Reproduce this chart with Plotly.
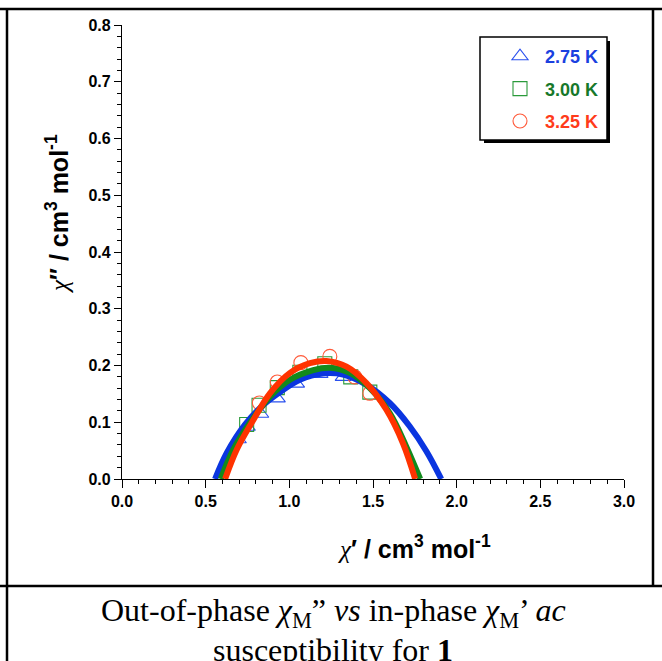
import plotly.graph_objects as go

# ---- data ----
temps = ["2.75 K", "3.00 K", "3.25 K"]

# experimental points (chi', chi'')
x_275 = [0.695, 0.749, 0.829, 0.928, 1.043, 1.183, 1.322]
y_275 = [0.070, 0.092, 0.115, 0.142, 0.168, 0.185, 0.180]
x_300 = [0.745, 0.819, 0.928, 1.063, 1.212, 1.367, 1.481]
y_300 = [0.096, 0.130, 0.161, 0.188, 0.203, 0.180, 0.153]
x_325 = [0.821, 0.928, 1.069, 1.242, 1.391, 1.481]
y_325 = [0.134, 0.171, 0.205, 0.216, 0.180, 0.151]

# fitted arcs
fx_275 = [0.556, 0.626, 0.735, 0.835, 0.934, 1.063, 1.202, 1.321, 1.461, 1.600, 1.719, 1.819, 1.908]
fy_275 = [0.000, 0.046, 0.096, 0.128, 0.151, 0.175, 0.186, 0.184, 0.166, 0.134, 0.093, 0.049, 0.000]
fx_300 = [0.590, 0.666, 0.765, 0.884, 1.004, 1.143, 1.242, 1.361, 1.481, 1.600, 1.699, 1.782]
fy_300 = [0.000, 0.052, 0.099, 0.145, 0.175, 0.192, 0.196, 0.187, 0.160, 0.116, 0.057, 0.000]
fx_325 = [0.616, 0.686, 0.775, 0.884, 1.004, 1.123, 1.222, 1.342, 1.461, 1.580, 1.679, 1.752]
fy_325 = [0.000, 0.052, 0.099, 0.151, 0.187, 0.204, 0.208, 0.198, 0.169, 0.122, 0.063, 0.000]

x_ticks = [0.0, 0.5, 1.0, 1.5, 2.0, 2.5, 3.0]
y_ticks = [0.0, 0.1, 0.2, 0.3, 0.4, 0.5, 0.6, 0.7, 0.8]

# ---- styles ----
line_cols = ["#0a35e0", "#128a1c", "#ff3300"]
mark_cols = ["#2a50ee", "#2a9a3a", "#ff5a3a"]
text_cols = ["#1a40e0", "#17782a", "#ff3b1a"]
symbols = ["triangle-up-open", "square-open", "circle-open"]

W, H = 662, 661
L, R, T, B = 122, 38, 25, 182
PW, PH = W - L - R, H - T - B


def px(xp):
    return (xp - L) / PW


def py(yp):
    return (H - B - yp) / PH


fig = go.Figure()

pts = [(x_275, y_275), (x_300, y_300), (x_325, y_325)]
for i, (xs, ys) in enumerate(pts):
    fig.add_trace(go.Scatter(
        x=xs, y=ys, mode="markers", legendgroup=f"g{i}",
        name=f"<span style='color:{text_cols[i]}'>{temps[i]}</span>",
        marker=dict(symbol=symbols[i], size=14, color=mark_cols[i],
                    line=dict(width=1.1, color=mark_cols[i])),
    ))

fits = [(fx_275, fy_275), (fx_300, fy_300), (fx_325, fy_325)]
for i, (xs, ys) in enumerate(fits):
    fig.add_trace(go.Scatter(
        x=xs, y=ys, mode="lines", showlegend=False,
        line=dict(color=line_cols[i], width=6, shape="spline", smoothing=1.0),
    ))

tickfont = dict(family="Liberation Sans, Arial", size=16, color="black", weight="bold")

fig.update_xaxes(
    range=[0, 3], tickvals=x_ticks, ticktext=[f"{v:.1f}" for v in x_ticks],
    showline=True, linecolor="black", linewidth=1.3, ticks="outside",
    ticklen=8, tickwidth=1.3, tickcolor="black", tickfont=tickfont,
    showgrid=False, zeroline=False,
    minor=dict(dtick=0.1, ticks="outside", ticklen=4, tickwidth=1.2, tickcolor="black", showgrid=False),
)
fig.update_yaxes(
    range=[0, 0.8], tickvals=y_ticks, ticktext=[f"{v:.1f}" for v in y_ticks],
    showline=True, linecolor="black", linewidth=1.3, ticks="outside",
    ticklen=7, tickwidth=1.3, tickcolor="black", tickfont=tickfont,
    showgrid=False, zeroline=False,
    minor=dict(dtick=0.02, ticks="outside", ticklen=4, tickwidth=1.2, tickcolor="black", showgrid=False),
)

chi = "<span style=\"font-family:'Liberation Serif';font-weight:normal;font-style:italic\">χ</span>"
title_font = dict(family="Liberation Sans, Arial", size=25, color="black", weight="bold")
cap_font = dict(family="Liberation Serif, Times New Roman", size=32, color="black")

annotations = [
    dict(text=chi + "′ / cm<sup>3</sup> mol<sup>-1</sup>", x=px(414), y=py(547),
         xref="paper", yref="paper", showarrow=False, font=title_font,
         xanchor="center", yanchor="middle"),
    dict(text=chi + "″ / cm<sup>3</sup> mol<sup>-1</sup>", x=px(57), y=py(214),
         xref="paper", yref="paper", showarrow=False, font=title_font,
         textangle=-90, xanchor="center", yanchor="middle"),
    dict(text="Out-of-phase <i>χ</i><sub>M</sub>” <i>vs</i> in-phase <i>χ</i><sub>M</sub>’ <i>ac</i>",
         x=px(333), y=py(612), xref="paper", yref="paper", showarrow=False,
         font=cap_font, xanchor="center", yanchor="middle"),
    dict(text="susceptibility for <b>1</b>",
         x=px(333), y=py(650), xref="paper", yref="paper", showarrow=False,
         font=cap_font, xanchor="center", yanchor="middle"),
]

frame = dict(color="black", width=2.5)
shapes = [
    # outer frame / table lines
    dict(type="line", xref="paper", yref="paper", x0=px(0), x1=px(662), y0=py(9), y1=py(9), line=frame),
    dict(type="line", xref="paper", yref="paper", x0=px(7), x1=px(7), y0=py(9), y1=py(661), line=frame),
    dict(type="line", xref="paper", yref="paper", x0=px(653), x1=px(653), y0=py(9), y1=py(586), line=frame),
    dict(type="line", xref="paper", yref="paper", x0=px(0), x1=px(662), y0=py(586), y1=py(586), line=frame),
    # legend shadow + box
    dict(type="rect", xref="paper", yref="paper", x0=px(484), x1=px(610), y0=py(41), y1=py(143),
         fillcolor="black", line=dict(width=0), layer="above"),
    dict(type="rect", xref="paper", yref="paper", x0=px(480), x1=px(607), y0=py(37), y1=py(140),
         fillcolor="white", line=dict(color="black", width=1.5), layer="above"),
]

fig.update_layout(
    width=W, height=H, margin=dict(l=L, r=R, t=T, b=B),
    paper_bgcolor="white", plot_bgcolor="white",
    annotations=annotations, shapes=shapes,
    legend=dict(x=px(495), y=py(38), xanchor="left", yanchor="top",
                bgcolor="rgba(0,0,0,0)", borderwidth=0, tracegroupgap=6,
                itemwidth=40,
                font=dict(family="Liberation Sans, Arial", size=18, weight="bold")),
)

fig.write_html("out.html", config={"displayModeBar": False},
               post_script="document.body.style.margin='0';document.body.style.overflow='hidden';")
